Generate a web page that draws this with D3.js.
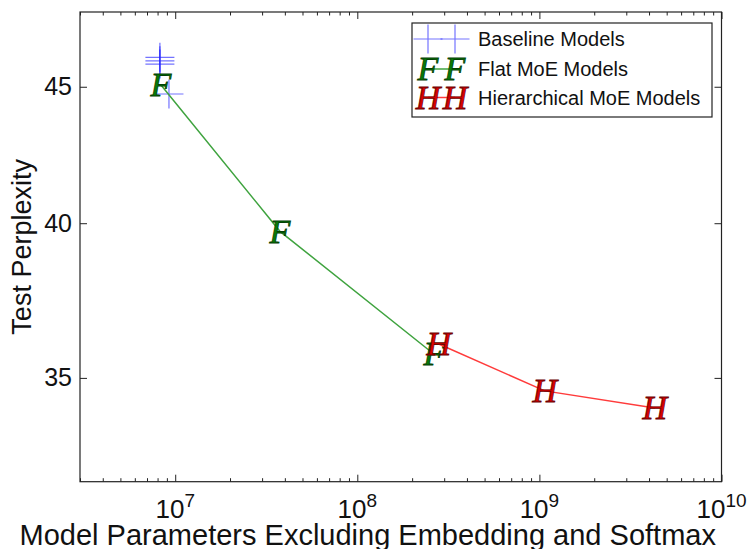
<!DOCTYPE html>
<html>
<head>
<meta charset="utf-8">
<script src="https://cdn.jsdelivr.net/npm/d3@7"></script>
<style>
  body { margin: 0; background: #fff; }
  svg { display: block; }
</style>
</head>
<body>
<svg id="chart"></svg>
<script>
// data
const baselineParams = [8.24e6, 8.24e6, 8.24e6, 9.24e6];
const baselinePerplexity = [46.16, 46.02, 45.89, 44.72];

const flatParams = [8.35e6, 3.76e7, 2.63e8];
const flatPerplexity = [45.07, 39.72, 35.73];

const hierParams = [2.8e8, 1.07e9, 4.3e9];
const hierPerplexity = [36.04, 34.61, 34.1];

const xMajorTicks = [1e7, 1e8, 1e9, 1e10];
const yTicks = [35, 40, 45];
const legendLabels = ["Baseline Models", "Flat MoE Models", "Hierarchical MoE Models"];

// layout
const width = 748, height = 549;
const margin = { top: 12, right: 26.5, bottom: 67.3, left: 80 };
const innerW = width - margin.left - margin.right;
const innerH = height - margin.top - margin.bottom;
const sans = "'Liberation Sans', Arial, sans-serif";
const serif = "'Liberation Serif', 'Times New Roman', serif";

const svg = d3.select("#chart").attr("width", width).attr("height", height);
const g = svg.append("g").attr("transform", `translate(${margin.left},${margin.top})`);

const x = d3.scaleLog().domain([3e6, 1e10]).range([0, innerW]);
const y = d3.scaleLog().domain([32, 48]).range([innerH, 0]);

// minor ticks: 2..9 x 10^k inside the domain
const xMinorTicks = x.ticks().filter((d) => !xMajorTicks.includes(d));

function styleAxis(sel) {
  sel.select(".domain").remove();
  sel.selectAll("line").attr("stroke", "#222").attr("stroke-width", 1);
}

// bottom + top axes (ticks point inward)
const xb = g.append("g").attr("transform", `translate(0,${innerH})`);
xb.call(d3.axisBottom(x).tickValues(xMajorTicks).tickSizeInner(-7).tickSizeOuter(0).tickFormat(""));
styleAxis(xb);
const xbm = g.append("g").attr("transform", `translate(0,${innerH})`);
xbm.call(d3.axisBottom(x).tickValues(xMinorTicks).tickSizeInner(-3.5).tickSizeOuter(0).tickFormat(""));
styleAxis(xbm);
const xt = g.append("g");
xt.call(d3.axisTop(x).tickValues(xMajorTicks).tickSizeInner(-7).tickSizeOuter(0).tickFormat(""));
styleAxis(xt);
const xtm = g.append("g");
xtm.call(d3.axisTop(x).tickValues(xMinorTicks).tickSizeInner(-3.5).tickSizeOuter(0).tickFormat(""));
styleAxis(xtm);

// x tick labels with superscript exponent
const xLabels = g.append("g")
  .selectAll("text")
  .data(xMajorTicks)
  .enter()
  .append("text")
  .attr("x", (d) => x(d))
  .attr("y", innerH + 36)
  .attr("text-anchor", "middle")
  .style("font-family", sans)
  .style("font-size", "26px")
  .attr("fill", "#111");
xLabels.append("tspan").text("10");
xLabels.append("tspan")
  .attr("dy", -11)
  .style("font-size", "19px")
  .text((d) => Math.round(Math.log10(d)));

// left + right axes
const yl = g.append("g");
yl.call(d3.axisLeft(y).tickValues(yTicks).tickSizeInner(-7).tickSizeOuter(0).tickPadding(8).tickFormat(d3.format("d")));
styleAxis(yl);
yl.selectAll("text")
  .style("font-family", sans)
  .style("font-size", "25px")
  .attr("fill", "#111");
const yr = g.append("g").attr("transform", `translate(${innerW},0)`);
yr.call(d3.axisRight(y).tickValues(yTicks).tickSizeInner(-7).tickSizeOuter(0).tickFormat(""));
styleAxis(yr);

// frame
g.append("rect")
  .attr("width", innerW)
  .attr("height", innerH)
  .attr("fill", "none")
  .attr("stroke", "#222")
  .attr("stroke-width", 1.2);

// axis titles
svg.append("text")
  .attr("x", margin.left + innerW / 2 - 33)
  .attr("y", height - 4)
  .attr("text-anchor", "middle")
  .style("font-family", sans)
  .style("font-size", "29px")
  .attr("fill", "#111")
  .text("Model Parameters Excluding Embedding and Softmax");

svg.append("text")
  .attr("transform", `translate(31,${margin.top + innerH / 2}) rotate(-90)`)
  .attr("text-anchor", "middle")
  .style("font-family", sans)
  .style("font-size", "27px")
  .attr("fill", "#111")
  .text("Test Perplexity");

// series
const flat = flatParams.map((p, i) => ({ p, v: flatPerplexity[i] }));
const hier = hierParams.map((p, i) => ({ p, v: hierPerplexity[i] }));
const base = baselineParams.map((p, i) => ({ p, v: baselinePerplexity[i] }));

const line = d3.line().x((d) => x(d.p)).y((d) => y(d.v));

const plus = 14.5;
function drawPlus(sel, cx, cy) {
  sel.append("path")
    .attr("d", `M${cx - plus},${cy}H${cx + plus}M${cx},${cy - plus}V${cy + plus}`)
    .attr("stroke", "blue")
    .attr("stroke-opacity", 0.55)
    .attr("stroke-width", 1.2)
    .attr("fill", "none");
}

function drawLetter(sel, cx, cy, ch, fill, edge) {
  sel.append("text")
    .attr("x", cx)
    .attr("y", cy)
    .attr("dy", "0.33em")
    .attr("text-anchor", "middle")
    .style("font-family", serif)
    .style("font-style", "italic")
    .style("font-size", "34px")
    .attr("fill", fill)
    .attr("stroke", edge)
    .attr("stroke-width", 0.8)
    .text(ch);
}

const marks = g.append("g");
base.forEach((d) => drawPlus(marks, x(d.p), y(d.v)));

marks.append("path")
  .datum(flat)
  .attr("d", line)
  .attr("fill", "none")
  .attr("stroke", "#3fa33f")
  .attr("stroke-width", 1.5);
flat.forEach((d) => drawLetter(marks, x(d.p), y(d.v), "F", "#087a08", "#034003"));

marks.append("path")
  .datum(hier)
  .attr("d", line)
  .attr("fill", "none")
  .attr("stroke", "#ff3b3b")
  .attr("stroke-width", 1.5);
hier.forEach((d) => drawLetter(marks, x(d.p), y(d.v), "H", "#d80000", "#6a0000"));

// legend
const legend = svg.append("g");
const lgX = 412, lgY = 23, lgW = 300, lgH = 94;
legend.append("rect")
  .attr("x", lgX).attr("y", lgY)
  .attr("width", lgW).attr("height", lgH)
  .attr("fill", "#fff")
  .attr("stroke", "#222")
  .attr("stroke-width", 1.2);

const rowY = [39, 69, 97.5];
const mk = [428, 455];

drawPlus(legend, mk[0], rowY[0]);
drawPlus(legend, mk[1], rowY[0]);

legend.append("line")
  .attr("x1", mk[0]).attr("x2", mk[1])
  .attr("y1", rowY[1]).attr("y2", rowY[1])
  .attr("stroke", "#3fa33f").attr("stroke-width", 1.5);
mk.forEach((m) => drawLetter(legend, m, rowY[1], "F", "#087a08", "#034003"));

legend.append("line")
  .attr("x1", mk[0]).attr("x2", mk[1])
  .attr("y1", rowY[2]).attr("y2", rowY[2])
  .attr("stroke", "#ff3b3b").attr("stroke-width", 1.5);
mk.forEach((m) => drawLetter(legend, m, rowY[2], "H", "#d80000", "#6a0000"));

legend.selectAll("text.lab")
  .data(legendLabels)
  .enter()
  .append("text")
  .attr("class", "lab")
  .attr("x", 478)
  .attr("y", (d, i) => rowY[i])
  .attr("dy", "0.36em")
  .style("font-family", sans)
  .style("font-size", "20px")
  .attr("fill", "#111")
  .text((d) => d);
</script>
</body>
</html>
